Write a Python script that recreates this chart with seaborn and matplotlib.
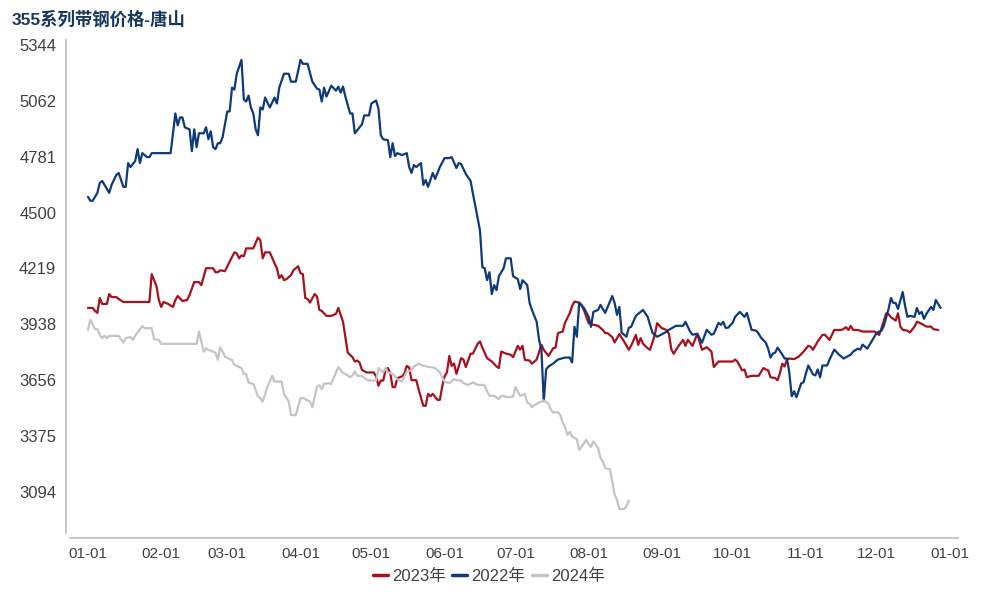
import numpy as np
import pandas as pd
import matplotlib
matplotlib.use('Agg')
import matplotlib.pyplot as plt
import seaborn as sns

sns.set_theme(style='white')
plt.rcParams['font.family'] = ['Liberation Sans', 'Noto Sans CJK SC', 'DejaVu Sans']
plt.rcParams['axes.unicode_minus'] = False

title = '355系列带钢价格-唐山'

# 2022年 (蓝)
dates_2022 = ['01-01', '01-02', '01-03', '01-05', '01-06', '01-07', '01-10', '01-11', '01-13', '01-14',
              '01-16', '01-17', '01-18', '01-19', '01-21', '01-22', '01-23', '01-24', '01-26', '01-27',
              '01-28', '02-05', '02-07', '02-08', '02-09', '02-10', '02-11', '02-13', '02-14', '02-15',
              '02-16', '02-17', '02-19', '02-20', '02-21', '02-22', '02-23', '02-24', '02-25', '02-26',
              '02-27', '03-01', '03-02', '03-03', '03-04', '03-05', '03-07', '03-08', '03-09', '03-10',
              '03-11', '03-12', '03-13', '03-14', '03-15', '03-16', '03-17', '03-19', '03-21', '03-22',
              '03-23', '03-25', '03-27', '03-28', '03-30', '04-01', '04-02', '04-04', '04-06', '04-08',
              '04-09', '04-10', '04-11', '04-12', '04-14', '04-16', '04-17', '04-18', '04-19', '04-20',
              '04-22', '04-23', '04-24', '04-26', '04-27', '04-28', '04-30', '05-01', '05-03', '05-04',
              '05-05', '05-06', '05-08', '05-09', '05-10', '05-11', '05-12', '05-14', '05-16', '05-17',
              '05-18', '05-19', '05-20', '05-22', '05-23', '05-24', '05-25', '05-27', '05-28', '05-30',
              '06-01', '06-03', '06-04', '06-06', '06-07', '06-08', '06-10', '06-12', '06-13', '06-14',
              '06-16', '06-17', '06-18', '06-19', '06-20', '06-21', '06-22', '06-23', '06-24', '06-26',
              '06-27', '06-29', '06-30', '07-02', '07-03', '07-04', '07-06', '07-07', '07-08', '07-10',
              '07-11', '07-12', '07-13', '07-14', '07-15', '07-17', '07-19', '07-22', '07-24', '07-25',
              '07-26', '07-27', '07-28', '07-30', '08-01', '08-02', '08-03', '08-05', '08-06', '08-08',
              '08-11', '08-12', '08-13', '08-14', '08-15', '08-17', '08-18', '08-19', '08-21', '08-24',
              '08-26', '08-28', '08-30', '09-03', '09-04', '09-07', '09-10', '09-11', '09-13', '09-14',
              '09-16', '09-18', '09-20', '09-22', '09-23', '09-25', '09-26', '09-27', '09-28', '09-29',
              '10-01', '10-02', '10-04', '10-06', '10-07', '10-09', '10-11', '10-12', '10-13', '10-15',
              '10-16', '10-17', '10-18', '10-19', '10-20', '10-22', '10-23', '10-24', '10-25', '10-26',
              '10-27', '10-28', '10-30', '10-31', '11-01', '11-02', '11-04', '11-05', '11-06', '11-07',
              '11-08', '11-10', '11-11', '11-13', '11-15', '11-17', '11-20', '11-21', '11-23', '11-24',
              '11-25', '11-27', '11-28', '11-30', '12-01', '12-03', '12-04', '12-06', '12-07', '12-08',
              '12-09', '12-10', '12-12', '12-13', '12-14', '12-15', '12-17', '12-18', '12-19', '12-20',
              '12-21', '12-22', '12-24', '12-25', '12-26', '12-28']
price_2022 = [4580, 4560, 4560, 4600, 4650, 4660, 4600, 4640, 4690, 4700,
              4630, 4630, 4750, 4730, 4760, 4820, 4750, 4800, 4780, 4780,
              4800, 4800, 5000, 4940, 4980, 4980, 4930, 4920, 4810, 4920,
              4830, 4900, 4900, 4930, 4870, 4910, 4830, 4820, 4850, 4850,
              4880, 5010, 5010, 5130, 5120, 5200, 5270, 5070, 5060, 5090,
              5030, 5000, 4920, 4890, 5030, 5020, 5080, 5030, 5080, 5050,
              5130, 5200, 5200, 5160, 5160, 5270, 5250, 5250, 5160, 5125,
              5120, 5060, 5130, 5085, 5140, 5115, 5135, 5105, 5135, 5085,
              5000, 5000, 4900, 4930, 4945, 4990, 4990, 5050, 5065, 5025,
              4890, 4870, 4865, 4780, 4850, 4785, 4800, 4790, 4800, 4730,
              4700, 4740, 4730, 4750, 4640, 4665, 4630, 4700, 4670, 4730,
              4775, 4775, 4780, 4725, 4750, 4745, 4695, 4660, 4595, 4535,
              4410, 4225, 4220, 4160, 4200, 4090, 4135, 4110, 4180, 4220,
              4270, 4270, 4180, 4165, 4115, 4160, 4135, 4045, 4010, 3950,
              3860, 3810, 3550, 3710, 3725, 3740, 3760, 3770, 3770, 3745,
              3925, 3875, 4045, 4020, 3975, 3925, 4000, 4010, 4035, 3995,
              4080, 4045, 3985, 4025, 3895, 3875, 3920, 3925, 3980, 4010,
              3975, 3895, 3875, 3900, 3910, 3930, 3930, 3950, 3900, 3885,
              3890, 3845, 3910, 3885, 3890, 3945, 3935, 3950, 3920, 3920,
              3945, 3975, 4000, 3975, 3995, 3910, 3905, 3890, 3870, 3845,
              3815, 3770, 3790, 3795, 3820, 3785, 3765, 3765, 3690, 3575,
              3600, 3570, 3640, 3645, 3690, 3730, 3685, 3680, 3710, 3670,
              3730, 3730, 3760, 3810, 3785, 3765, 3785, 3800, 3815, 3810,
              3835, 3815, 3835, 3875, 3895, 3905, 3930, 4015, 4070, 4045,
              4045, 4015, 4100, 4030, 3975, 3980, 3975, 4020, 3990, 4000,
              3965, 3990, 4025, 4010, 4060, 4020]

# 2023年 (红)
dates_2023 = ['01-01', '01-03', '01-04', '01-05', '01-06', '01-07', '01-09', '01-10', '01-11', '01-13',
              '01-14', '01-16', '01-27', '01-28', '01-30', '01-31', '02-01', '02-02', '02-04', '02-06',
              '02-07', '02-08', '02-10', '02-12', '02-13', '02-15', '02-17', '02-18', '02-20', '02-23',
              '02-24', '02-25', '02-26', '02-28', '03-01', '03-04', '03-05', '03-06', '03-07', '03-08',
              '03-09', '03-12', '03-14', '03-15', '03-16', '03-17', '03-19', '03-21', '03-22', '03-23',
              '03-24', '03-25', '03-26', '03-28', '03-29', '03-31', '04-01', '04-02', '04-03', '04-04',
              '04-05', '04-07', '04-08', '04-09', '04-10', '04-12', '04-14', '04-16', '04-17', '04-19',
              '04-20', '04-21', '04-23', '04-24', '04-25', '04-26', '04-27', '04-29', '05-02', '05-03',
              '05-04', '05-05', '05-06', '05-07', '05-08', '05-09', '05-10', '05-11', '05-12', '05-14',
              '05-15', '05-16', '05-17', '05-18', '05-20', '05-21', '05-23', '05-24', '05-25', '05-26',
              '05-27', '05-29', '05-30', '05-31', '06-01', '06-02', '06-03', '06-04', '06-05', '06-06',
              '06-07', '06-08', '06-09', '06-10', '06-12', '06-13', '06-15', '06-16', '06-17', '06-19',
              '06-21', '06-23', '06-24', '06-25', '06-27', '06-29', '06-30', '07-02', '07-03', '07-04',
              '07-05', '07-07', '07-08', '07-10', '07-12', '07-13', '07-15', '07-17', '07-18', '07-19',
              '07-21', '07-22', '07-24', '07-25', '07-26', '07-28', '07-29', '07-30', '07-31', '08-01',
              '08-03', '08-05', '08-07', '08-08', '08-09', '08-11', '08-12', '08-14', '08-16', '08-18',
              '08-19', '08-21', '08-22', '08-23', '08-24', '08-26', '08-27', '08-29', '08-30', '09-01',
              '09-03', '09-04', '09-05', '09-06', '09-08', '09-10', '09-11', '09-12', '09-14', '09-16',
              '09-18', '09-20', '09-22', '09-23', '09-25', '10-01', '10-02', '10-03', '10-05', '10-06',
              '10-07', '10-09', '10-12', '10-14', '10-15', '10-16', '10-17', '10-19', '10-20', '10-21',
              '10-22', '10-23', '10-24', '10-25', '10-27', '10-29', '10-31', '11-02', '11-03', '11-04',
              '11-06', '11-08', '11-09', '11-11', '11-13', '11-16', '11-17', '11-18', '11-19', '11-20',
              '11-21', '11-23', '11-25', '11-30', '12-02', '12-03', '12-05', '12-06', '12-07', '12-09',
              '12-10', '12-11', '12-12', '12-14', '12-15', '12-17', '12-18', '12-20', '12-22', '12-24',
              '12-25', '12-27']
price_2023 = [4020, 4020, 4005, 3995, 4070, 4040, 4040, 4090, 4075, 4075,
              4065, 4050, 4050, 4190, 4130, 4060, 4025, 4050, 4040, 4025,
              4060, 4080, 4055, 4060, 4085, 4150, 4150, 4135, 4220, 4220,
              4200, 4200, 4210, 4205, 4230, 4300, 4295, 4270, 4285, 4280,
              4320, 4320, 4375, 4360, 4270, 4300, 4300, 4245, 4220, 4170,
              4185, 4160, 4165, 4185, 4210, 4230, 4195, 4190, 4070, 4065,
              4047, 4090, 4077, 4010, 4005, 3980, 3980, 3990, 4020, 3950,
              3873, 3795, 3772, 3750, 3755, 3745, 3708, 3695, 3695, 3675,
              3628, 3654, 3654, 3705, 3717, 3690, 3621, 3621, 3666, 3675,
              3690, 3728, 3720, 3656, 3656, 3611, 3527, 3527, 3587, 3575,
              3587, 3557, 3557, 3624, 3675, 3695, 3778, 3728, 3740, 3688,
              3725, 3767, 3760, 3722, 3789, 3790, 3839, 3851, 3820, 3767,
              3750, 3725, 3717, 3800, 3790, 3784, 3772, 3829, 3810, 3829,
              3758, 3755, 3739, 3760, 3834, 3809, 3778, 3817, 3820, 3893,
              3901, 3946, 3993, 4030, 4052, 4047, 4035, 4010, 3976, 3943,
              3935, 3930, 3909, 3893, 3893, 3873, 3846, 3889, 3851, 3809,
              3830, 3884, 3834, 3868, 3840, 3817, 3809, 3884, 3943, 3918,
              3909, 3889, 3812, 3789, 3827, 3859, 3829, 3859, 3829, 3889,
              3809, 3822, 3800, 3722, 3750, 3750, 3760, 3750, 3705, 3710,
              3671, 3678, 3678, 3717, 3710, 3705, 3671, 3666, 3656, 3692,
              3739, 3725, 3762, 3765, 3762, 3775, 3800, 3829, 3825, 3809,
              3851, 3884, 3885, 3859, 3909, 3909, 3915, 3923, 3909, 3929,
              3909, 3909, 3901, 3901, 3884, 3918, 3993, 3989, 3973, 3956,
              3993, 3926, 3910, 3905, 3896, 3926, 3951, 3940, 3926, 3926,
              3913, 3909]

# 2024年 (灰)
dates_2024 = ['01-01', '01-02', '01-04', '01-05', '01-06', '01-07', '01-08', '01-09', '01-10', '01-14',
              '01-15', '01-16', '01-17', '01-19', '01-20', '01-21', '01-24', '01-25', '01-28', '01-29',
              '01-31', '02-01', '02-16', '02-17', '02-18', '02-19', '02-20', '02-21', '02-23', '02-24',
              '02-25', '02-26', '02-27', '02-28', '03-02', '03-03', '03-04', '03-05', '03-07', '03-08',
              '03-09', '03-10', '03-12', '03-13', '03-14', '03-15', '03-16', '03-18', '03-20', '03-21',
              '03-24', '03-25', '03-27', '03-28', '03-30', '04-01', '04-02', '04-03', '04-05', '04-06',
              '04-08', '04-09', '04-10', '04-11', '04-13', '04-14', '04-15', '04-16', '04-17', '04-19',
              '04-20', '04-22', '04-23', '04-24', '04-25', '04-27', '04-29', '05-01', '05-03', '05-04',
              '05-06', '05-07', '05-08', '05-10', '05-12', '05-13', '05-14', '05-16', '05-18', '05-19',
              '05-21', '05-23', '05-24', '05-25', '05-26', '05-28', '05-30', '05-31', '06-01', '06-03',
              '06-05', '06-06', '06-08', '06-09', '06-11', '06-13', '06-15', '06-17', '06-18', '06-19',
              '06-20', '06-22', '06-24', '06-25', '06-28', '06-30', '07-01', '07-02', '07-03', '07-05',
              '07-06', '07-07', '07-08', '07-10', '07-12', '07-13', '07-15', '07-16', '07-17', '07-19',
              '07-20', '07-21', '07-22', '07-23', '07-24', '07-25', '07-27', '07-28', '07-29', '07-31',
              '08-01', '08-02', '08-03', '08-05', '08-06', '08-07', '08-08', '08-10', '08-11', '08-12',
              '08-13', '08-14', '08-16', '08-17', '08-18']
price_2024 = [3909, 3960, 3913, 3913, 3884, 3868, 3879, 3868, 3879, 3879,
              3863, 3846, 3868, 3873, 3859, 3880, 3929, 3918, 3918, 3863,
              3859, 3839, 3839, 3901, 3851, 3800, 3817, 3809, 3800, 3795,
              3758, 3822, 3800, 3775, 3762, 3758, 3733, 3728, 3717, 3688,
              3688, 3644, 3637, 3607, 3574, 3566, 3548, 3624, 3678, 3649,
              3649, 3587, 3548, 3480, 3480, 3566, 3566, 3560, 3548, 3520,
              3624, 3630, 3611, 3637, 3641, 3637, 3666, 3695, 3722, 3692,
              3688, 3671, 3680, 3700, 3678, 3678, 3658, 3654, 3654, 3717,
              3695, 3717, 3695, 3688, 3661, 3654, 3649, 3700, 3705, 3725,
              3739, 3728, 3728, 3722, 3722, 3717, 3695, 3671, 3649, 3641,
              3661, 3656, 3654, 3641, 3632, 3645, 3632, 3632, 3628, 3599,
              3577, 3577, 3561, 3577, 3571, 3574, 3621, 3599, 3577, 3587,
              3544, 3537, 3520, 3537, 3548, 3554, 3537, 3507, 3493, 3495,
              3481, 3443, 3420, 3381, 3395, 3372, 3359, 3305, 3320, 3355,
              3335, 3320, 3347, 3314, 3264, 3247, 3213, 3208, 3146, 3079,
              3054, 3007, 3007, 3020, 3050]

series_names = ['2023年', '2022年', '2024年']
series_colors = ['#A8101C', '#0C3A7C', '#C4C4C4']
month_labels = ['01-01', '02-01', '03-01', '04-01', '05-01', '06-01', '07-01',
                '08-01', '09-01', '10-01', '11-01', '12-01', '01-01']
ytick_values = [3093.75, 3375, 3656.25, 3937.5, 4218.75, 4500, 4781.25, 5062.5, 5343.75]
ytick_labels = ['3094', '3375', '3656', '3938', '4219', '4500', '4781', '5062', '5344']


def day_of_year(md):
    # 统一按同一参考年换算成年内天数
    return (pd.to_datetime(['2023-' + s for s in md]).dayofyear - 1).values


frames = []
for name, d, p in [('2023年', dates_2023, price_2023),
                   ('2022年', dates_2022, price_2022),
                   ('2024年', dates_2024, price_2024)]:
    frames.append(pd.DataFrame({'day': day_of_year(d), 'price': p, 'year': name}))
data = pd.concat(frames, ignore_index=True)

fig = plt.figure(figsize=(10, 6), dpi=100)
ax = fig.add_axes([0.066, 0.112, 0.892, 0.821])

sns.lineplot(data=data, x='day', y='price', hue='year', hue_order=series_names,
             palette=series_colors, linewidth=1.6, ax=ax, estimator=None, sort=False)

ax.set_xlim(-9.3, 368.4)
ax.set_ylim(2887, 5369)

month_days = [0, 31, 59, 90, 120, 151, 181, 212, 243, 273, 304, 334, 365]
ax.set_xticks(month_days)
ax.set_xticklabels(month_labels)
ax.set_yticks(ytick_values)
ax.set_yticklabels(ytick_labels)
ax.set_xlabel('')
ax.set_ylabel('')

for s in ['top', 'right']:
    ax.spines[s].set_visible(False)
ax.spines['left'].set_color('#BFBFBF')
ax.spines['bottom'].set_color('#BFBFBF')
ax.spines['bottom'].set_position(('outward', 4))
ax.spines['bottom'].set_bounds(-7.6, 368.4)
ax.tick_params(axis='y', direction='out', length=4, width=1, color='#BFBFBF',
               labelsize=12, labelcolor='#404040', pad=3)
ax.tick_params(axis='x', direction='in', length=4, width=1, color='#BFBFBF',
               labelsize=11, labelcolor='#404040', pad=6)
ax.grid(False)

handles, labels = ax.get_legend_handles_labels()
leg = ax.legend(handles, labels, loc='center', bbox_to_anchor=(0.489, 0.04),
                bbox_transform=fig.transFigure, ncol=3, frameon=False,
                fontsize=12, handlelength=0.9, handletextpad=0.25, columnspacing=0.4,
                labelcolor='#404040')
for h in leg.get_lines():
    h.set_linewidth(2.5)

fig.text(0.012, 0.968, title, fontsize=12.5, fontweight='bold', color='#17375E',
         va='center', ha='left')

fig.savefig('out.png', dpi=100)
